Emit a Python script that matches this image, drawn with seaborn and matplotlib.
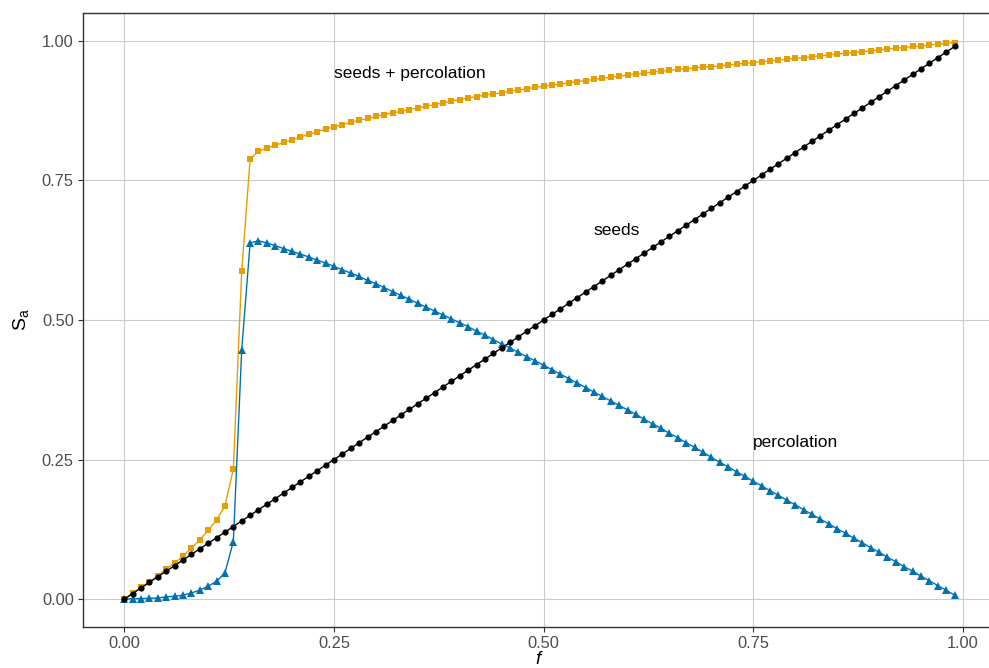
import matplotlib
matplotlib.use("Agg")
import matplotlib.pyplot as plt
import seaborn as sns
import pandas as pd

# fraction of seeded nodes
f = [0.00, 0.01, 0.02, 0.03, 0.04, 0.05, 0.06, 0.07, 0.08, 0.09,
     0.10, 0.11, 0.12, 0.13, 0.14, 0.15, 0.16, 0.17, 0.18, 0.19,
     0.20, 0.21, 0.22, 0.23, 0.24, 0.25, 0.26, 0.27, 0.28, 0.29,
     0.30, 0.31, 0.32, 0.33, 0.34, 0.35, 0.36, 0.37, 0.38, 0.39,
     0.40, 0.41, 0.42, 0.43, 0.44, 0.45, 0.46, 0.47, 0.48, 0.49,
     0.50, 0.51, 0.52, 0.53, 0.54, 0.55, 0.56, 0.57, 0.58, 0.59,
     0.60, 0.61, 0.62, 0.63, 0.64, 0.65, 0.66, 0.67, 0.68, 0.69,
     0.70, 0.71, 0.72, 0.73, 0.74, 0.75, 0.76, 0.77, 0.78, 0.79,
     0.80, 0.81, 0.82, 0.83, 0.84, 0.85, 0.86, 0.87, 0.88, 0.89,
     0.90, 0.91, 0.92, 0.93, 0.94, 0.95, 0.96, 0.97, 0.98, 0.99]

seeds = [0.00, 0.01, 0.02, 0.03, 0.04, 0.05, 0.06, 0.07, 0.08, 0.09,
         0.10, 0.11, 0.12, 0.13, 0.14, 0.15, 0.16, 0.17, 0.18, 0.19,
         0.20, 0.21, 0.22, 0.23, 0.24, 0.25, 0.26, 0.27, 0.28, 0.29,
         0.30, 0.31, 0.32, 0.33, 0.34, 0.35, 0.36, 0.37, 0.38, 0.39,
         0.40, 0.41, 0.42, 0.43, 0.44, 0.45, 0.46, 0.47, 0.48, 0.49,
         0.50, 0.51, 0.52, 0.53, 0.54, 0.55, 0.56, 0.57, 0.58, 0.59,
         0.60, 0.61, 0.62, 0.63, 0.64, 0.65, 0.66, 0.67, 0.68, 0.69,
         0.70, 0.71, 0.72, 0.73, 0.74, 0.75, 0.76, 0.77, 0.78, 0.79,
         0.80, 0.81, 0.82, 0.83, 0.84, 0.85, 0.86, 0.87, 0.88, 0.89,
         0.90, 0.91, 0.92, 0.93, 0.94, 0.95, 0.96, 0.97, 0.98, 0.99]

percolation = [0.000, 0.0005, 0.001, 0.0015, 0.002, 0.004, 0.005, 0.007, 0.011, 0.016,
               0.023, 0.032, 0.047, 0.103, 0.447, 0.638, 0.642, 0.638, 0.633, 0.628,
               0.623, 0.618, 0.613, 0.607, 0.602, 0.596, 0.590, 0.584, 0.578, 0.571,
               0.565, 0.558, 0.551, 0.544, 0.537, 0.530, 0.523, 0.516, 0.509, 0.502,
               0.495, 0.488, 0.480, 0.473, 0.465, 0.457, 0.450, 0.442, 0.434, 0.427,
               0.419, 0.411, 0.403, 0.395, 0.387, 0.379, 0.371, 0.363, 0.355, 0.347,
               0.339, 0.331, 0.322, 0.314, 0.306, 0.297, 0.289, 0.280, 0.272, 0.263,
               0.254, 0.245, 0.237, 0.228, 0.220, 0.211, 0.203, 0.194, 0.186, 0.177,
               0.169, 0.160, 0.152, 0.143, 0.135, 0.126, 0.118, 0.109, 0.101, 0.092,
               0.084, 0.075, 0.067, 0.058, 0.050, 0.041, 0.033, 0.024, 0.016, 0.007]

seeds_percolation = [0.000, 0.0105, 0.021, 0.0315, 0.042, 0.054, 0.065, 0.077, 0.091, 0.106,
                     0.123, 0.142, 0.167, 0.233, 0.587, 0.788, 0.802, 0.808, 0.813, 0.818,
                     0.823, 0.828, 0.833, 0.837, 0.842, 0.846, 0.850, 0.854, 0.858, 0.861,
                     0.865, 0.868, 0.871, 0.874, 0.877, 0.880, 0.883, 0.886, 0.889, 0.892,
                     0.895, 0.898, 0.900, 0.903, 0.905, 0.907, 0.910, 0.912, 0.914, 0.917,
                     0.919, 0.921, 0.923, 0.925, 0.927, 0.929, 0.931, 0.933, 0.935, 0.937,
                     0.939, 0.941, 0.942, 0.944, 0.946, 0.947, 0.949, 0.950, 0.952, 0.953,
                     0.954, 0.955, 0.957, 0.958, 0.960, 0.961, 0.963, 0.964, 0.966, 0.967,
                     0.969, 0.970, 0.972, 0.973, 0.975, 0.976, 0.978, 0.979, 0.981, 0.982,
                     0.984, 0.985, 0.987, 0.988, 0.990, 0.991, 0.993, 0.994, 0.996, 0.997]

x_ticks = [0.00, 0.25, 0.50, 0.75, 1.00]
x_tick_labels = ["0.00", "0.25", "0.50", "0.75", "1.00"]
y_ticks = [0.00, 0.25, 0.50, 0.75, 1.00]
y_tick_labels = ["0.00", "0.25", "0.50", "0.75", "1.00"]

sns.set_theme(style="white")
plt.rcParams["font.family"] = ["Liberation Sans", "DejaVu Sans"]
plt.rcParams["mathtext.fontset"] = "custom"
plt.rcParams["mathtext.it"] = "Liberation Sans:italic"
plt.rcParams["mathtext.rm"] = "Liberation Sans"

df = pd.DataFrame({
    "f": f,
    "seeds": seeds,
    "percolation": percolation,
    "seeds_percolation": seeds_percolation,
})

fig = plt.figure(figsize=(9.89, 6.68), dpi=100)
ax = fig.add_axes([82.8 / 989, 41 / 668, 913.3 / 989, 614 / 668])

sns.lineplot(data=df, x="f", y="seeds_percolation", color="#E69F00",
             marker="s", markersize=5, markeredgewidth=0, linewidth=1.0,
             ax=ax, zorder=3)
sns.lineplot(data=df, x="f", y="percolation", color="#0072B2",
             marker="^", markersize=5.5, markeredgewidth=0, linewidth=1.0,
             ax=ax, zorder=4)
sns.lineplot(data=df, x="f", y="seeds", color="#000000",
             marker="o", markersize=4.5, markeredgewidth=0, linewidth=1.0,
             ax=ax, zorder=5)

ax.set_xlim(-0.0495, 1.0395)
ax.set_ylim(-0.05, 1.05)
ax.set_xticks(x_ticks)
ax.set_xticklabels(x_tick_labels)
ax.set_yticks(y_ticks)
ax.set_yticklabels(y_tick_labels)

ax.grid(True, color="#CCCCCC", linewidth=0.8)
ax.set_axisbelow(True)
for sp in ax.spines.values():
    sp.set_color("#333333")
    sp.set_linewidth(1.0)
ax.tick_params(axis="both", which="major", length=3.5, width=0.8,
               color="#333333", labelcolor="#4D4D4D", labelsize=11.8, pad=3,
               bottom=True, left=True)

ax.set_xlabel("$f$", fontsize=13.5, color="black", labelpad=0)
ax.set_ylabel(r"$\mathrm{S}_{\mathrm{a}}$", fontsize=14, color="black", labelpad=8)

ax.text(0.25, 0.942, "seeds + percolation", ha="left", va="center",
        fontsize=12.5, color="black")
ax.text(0.56, 0.66, "seeds", ha="left", va="center",
        fontsize=12.5, color="black")
ax.text(0.75, 0.28, "percolation", ha="left", va="center",
        fontsize=12.5, color="black")

fig.savefig("out.png", dpi=100)
